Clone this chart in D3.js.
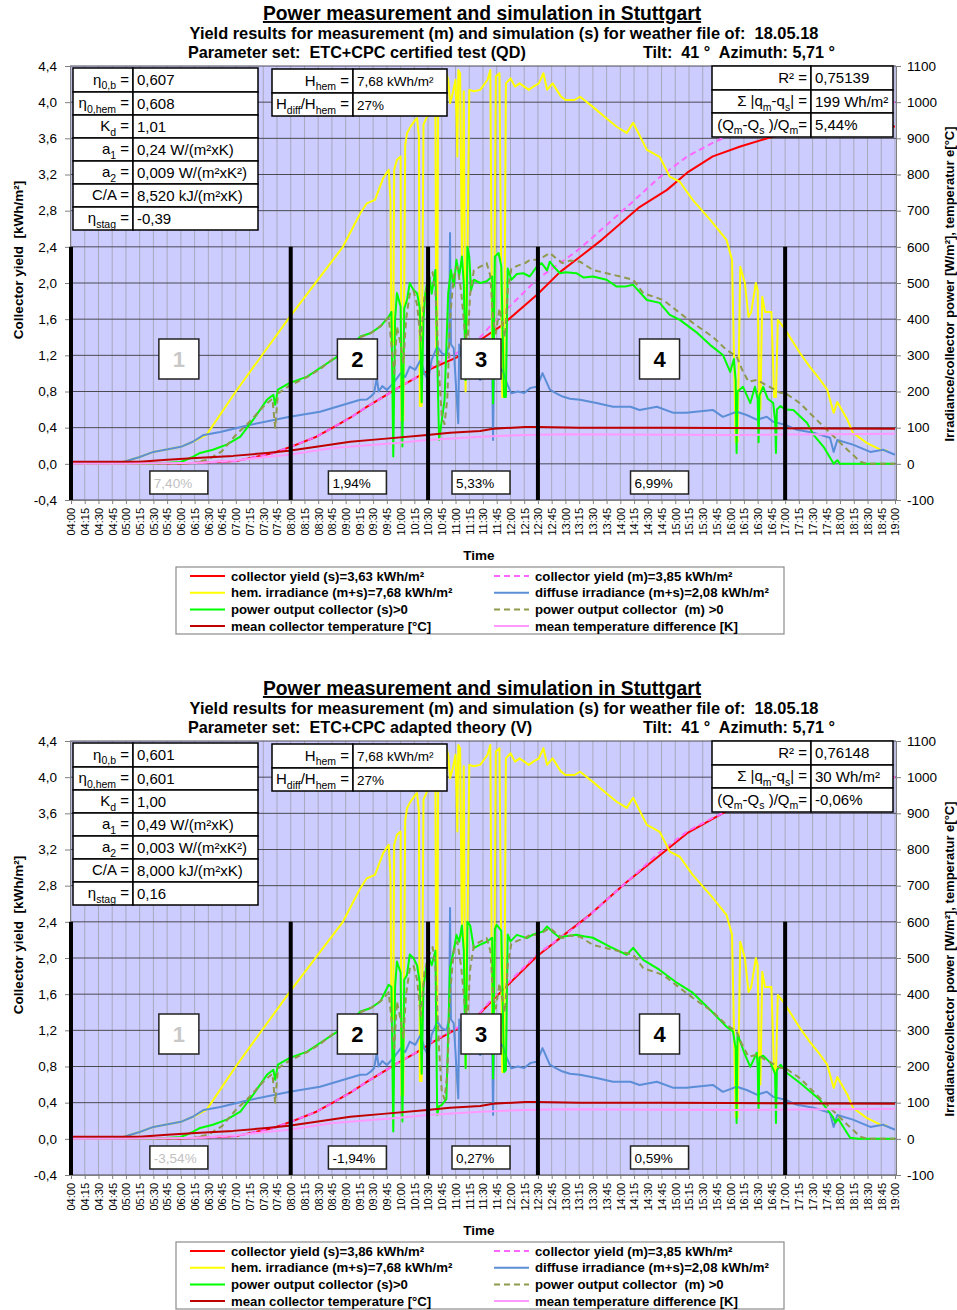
<!DOCTYPE html>
<html>
<head>
<meta charset="utf-8">
<script src="https://cdn.jsdelivr.net/npm/d3@7"></script>
<style>
  body { margin: 0; background: #fff; }
  svg { font-family: "Liberation Sans", Arial, sans-serif; }
  text { white-space: pre; }
</style>
</head>
<body>
<svg id="chart" width="957" height="1310"></svg>
<script>
// ---- tick labels ----
const timeLabels = ["04:00","04:15","04:30","04:45","05:00","05:15","05:30","05:45","06:00","06:15","06:30","06:45",
  "07:00","07:15","07:30","07:45","08:00","08:15","08:30","08:45","09:00","09:15","09:30","09:45","10:00","10:15",
  "10:30","10:45","11:00","11:15","11:30","11:45","12:00","12:15","12:30","12:45","13:00","13:15","13:30","13:45",
  "14:00","14:15","14:30","14:45","15:00","15:15","15:30","15:45","16:00","16:15","16:30","16:45","17:00","17:15",
  "17:30","17:45","18:00","18:15","18:30","18:45","19:00"];
const yieldTicks = [-0.4, 0, 0.4, 0.8, 1.2, 1.6, 2.0, 2.4, 2.8, 3.2, 3.6, 4.0, 4.4];
const yieldTickLabels = ["-0,4","0,0","0,4","0,8","1,2","1,6","2,0","2,4","2,8","3,2","3,6","4,0","4,4"];
const powerTicks = [-100, 0, 100, 200, 300, 400, 500, 600, 700, 800, 900, 1000, 1100];

const regionBounds = ["04:00","08:00","10:30","12:30","17:00"];
const regionNames = ["1","2","3","4"];
const regionTop = 2.4;

// ---- texts ----
const chartTitle = "Power measurement and simulation in Stuttgart";
const subTitle = "Yield results for measurement (m) and simulation (s) for weather file of:  18.05.18";
const tiltText = "Tilt:  41 °  Azimuth: 5,71 °";
const paramLabels = ["η_{0,b} =", "η_{0,hem} =", "K_{d} =", "a_{1} =", "a_{2} =", "C/A =", "η_{stag} ="];
const paramValuesQD = ["0,607","0,608","1,01","0,24 W/(m²xK)","0,009 W/(m²xK²)","8,520 kJ/(m²xK)","-0,39"];
const paramValuesV  = ["0,601","0,601","1,00","0,49 W/(m²xK)","0,003 W/(m²xK²)","8,000 kJ/(m²xK)","0,16"];
const irrLabels = ["H_{hem} =", "H_{diff}/H_{hem} ="];
const irrValues = ["7,68 kWh/m²", "27%"];
const statLabels = ["R² =", "Σ |q_{m}-q_{s}| =", "(Q_{m}-Q_{s} )/Q_{m}="];
const statsQD = ["0,75139", "199 Wh/m²", "5,44%"];
const statsV  = ["0,76148", "30 Wh/m²", "-0,06%"];
const percentsQD = ["7,40%", "1,94%", "5,33%", "6,99%"];
const percentsV  = ["-3,54%", "-1,94%", "0,27%", "0,59%"];
const legendQD = ["collector yield (s)=3,63 kWh/m²", "collector yield (m)=3,85 kWh/m²",
  "hem. irradiance (m+s)=7,68 kWh/m²", "diffuse irradiance (m+s)=2,08 kWh/m²",
  "power output collector (s)>0", "power output collector  (m) >0",
  "mean collector temperature [°C]", "mean temperature difference [K]"];
const legendV = ["collector yield (s)=3,86 kWh/m²", "collector yield (m)=3,85 kWh/m²",
  "hem. irradiance (m+s)=7,68 kWh/m²", "diffuse irradiance (m+s)=2,08 kWh/m²",
  "power output collector (s)>0", "power output collector  (m) >0",
  "mean collector temperature [°C]", "mean temperature difference [K]"];

// ---- series: [time, value]; yields in kWh/m², the rest in W/m² or °C/K ----
const yieldMeas = [["04:00",0],["06:00",0.005],["07:00",0.03],["07:19",0.07],["07:41",0.12],["07:58",0.18],
  ["08:28",0.30],["08:46",0.40],["09:05",0.51],["09:23",0.63],["09:41",0.74],["09:59",0.85],["10:18",0.96],
  ["10:35",1.08],["11:02",1.23],["11:27",1.40],["11:41",1.56],["11:59",1.74],["12:29",2.04],["12:54",2.22],
  ["13:12",2.35],["13:27",2.48],["14:07",2.84],["14:43",3.17],["15:13",3.40],["15:41",3.55],["15:56",3.62],
  ["16:30",3.79],["17:00",3.89],["17:30",3.95],["18:00",3.98],["19:00",4.00]];
const yieldSimQD = [["04:00",0],["06:00",0.005],["07:00",0.03],["07:19",0.07],["07:41",0.12],["07:58",0.18],
  ["08:28",0.30],["08:46",0.40],["09:05",0.51],["09:23",0.63],["09:41",0.74],["09:59",0.85],["10:18",0.96],
  ["10:35",1.06],["11:02",1.18],["11:27",1.37],["11:49",1.52],["12:29",1.87],["12:54",2.12],["13:16",2.29],
  ["13:40",2.48],["14:21",2.84],["14:51",3.03],["15:13",3.22],["15:41",3.40],["16:11",3.51],["16:47",3.62],
  ["17:30",3.69],["18:00",3.72],["19:00",3.73]];
const yieldSimV = [["04:00",0],["06:00",0.005],["07:00",0.03],["07:19",0.07],["07:41",0.12],["07:58",0.18],
  ["08:28",0.30],["08:46",0.40],["09:05",0.51],["09:23",0.63],["09:41",0.74],["09:59",0.85],["10:18",0.96],
  ["10:35",1.07],["11:02",1.22],["11:27",1.39],["11:49",1.62],["12:29",2.02],["12:54",2.22],["13:27",2.48],
  ["14:07",2.84],["14:51",3.20],["15:13",3.38],["15:55",3.62],["16:30",3.80],["17:00",3.90],["17:30",3.96],
  ["18:00",3.99],["19:00",4.00]];

const hemIrradiance = [["04:00",2],["04:57",5],["05:15",19],["05:30",33],["06:00",47],["06:13",61],["06:28",80],
  ["07:00",200],["07:30",305],["08:00",410],["08:30",510],["08:57",600],["09:16",693],["09:23",720],["09:32",730],
  ["09:41",790],["09:47",813],["09:49",727],["09:50",330],["09:52",330],["09:53",813],["09:56",841],["10:00",850],
  ["10:01",120],["10:03",120],["10:05",880],["10:07",914],["10:11",933],["10:16",951],["10:18",956],["10:20",905],
  ["10:21",160],["10:23",160],["10:25",938],["10:29",961],["10:34",979],["10:38",988],["10:39",306],["10:40",306],
  ["10:41",1006],["10:45",1062],["10:49",1089],["10:52",1062],["10:54",997],["10:57",1025],["11:00",1062],
  ["11:02",850],["11:03",1089],["11:05",1080],["11:07",560],["11:09",1030],["11:11",200],["11:13",560],
  ["11:15",1034],["11:20",1030],["11:27",1034],["11:35",1062],["11:38",1089],["11:40",300],["11:42",300],
  ["11:44",1071],["11:48",1080],["11:51",185],["11:53",185],["11:55",1052],["12:00",1066],["12:05",1043],
  ["12:10",1052],["12:20",1034],["12:25",1043],["12:31",1052],["12:36",1080],["12:40",1034],["12:46",1052],
  ["12:55",1016],["13:00",1006],["13:10",1006],["13:16",1015],["13:30",987],["13:45",955],["13:56",932],
  ["14:07",915],["14:14",943],["14:29",868],["14:43",849],["14:54",794],["15:05",780],["15:19",730],["15:38",675],
  ["15:56",619],["16:02",564],["16:06",60],["16:08",60],["16:11",545],["16:16",500],["16:20",406],["16:23",420],
  ["16:28",500],["16:30",480],["16:32",150],["16:33",150],["16:35",462],["16:38",420],["16:45",420],["16:48",185],
  ["16:50",185],["16:52",398],["16:58",379],["17:05",351],["17:16",307],["17:27",268],["17:36",240],["17:46",205],
  ["17:53",141],["17:57",171],["18:08",122],["18:14",86],["18:29",58],["18:44",39],["18:52",36]];

const diffIrradiance = [["04:00",2],["04:57",5],["05:15",19],["05:30",33],["06:00",47],["06:13",61],["06:25",80],
  ["06:43",88],["07:16",108],["07:59",130],["08:32",144],["09:05",169],["09:16",177],["09:23",178],["09:27",185],
  ["09:31",195],["09:34",238],["09:36",200],["09:40",215],["09:45",204],["09:52",223],["10:00",250],["10:05",240],
  ["10:10",269],["10:16",260],["10:22",288],["10:26",250],["10:30",232],["10:34",288],["10:40",324],["10:45",306],
  ["10:50",300],["10:53",330],["10:54",638],["10:55",330],["10:58",320],["11:03",112],["11:04",330],["11:08",280],
  ["11:12",241],["11:16",270],["11:20",250],["11:27",232],["11:35",250],["11:40",260],["11:41",66],["11:42",255],
  ["11:47",270],["11:52",255],["11:56",223],["12:01",195],["12:08",200],["12:15",196],["12:22",210],["12:29",213],
  ["12:35",251],["12:43",205],["12:50",195],["12:57",186],["13:05",180],["13:16",177],["13:34",168],["13:52",158],
  ["14:11",158],["14:21",149],["14:40",158],["14:58",141],["15:12",141],["15:25",145],["15:41",149],["15:52",130],
  ["16:07",144],["16:18",135],["16:29",122],["16:40",130],["16:47",116],["17:00",108],["17:13",94],["17:31",86],
  ["17:49",72],["17:53",33],["17:57",66],["18:14",53],["18:33",33],["18:47",39],["19:00",25]];

const powerMeas = [["04:00",0],["06:00",0],["06:15",3],["06:30",12],["06:45",35],["07:00",80],["07:12",108],
  ["07:30",158],["07:40",180],["07:43",100],["07:46",195],["08:00",218],["08:18",240],["08:32",262],["08:46",290],
  ["09:05",322],["09:16",350],["09:30",365],["09:40",385],["09:47",405],["09:50",330],["09:53",250],["09:56",380],
  ["10:00",330],["10:03",280],["10:06",400],["10:10",470],["10:14",480],["10:18",440],["10:22",340],["10:26",460],
  ["10:30",500],["10:35",530],["10:38",480],["10:42",250],["10:45",130],["10:48",110],["10:51",180],["10:54",400],
  ["10:58",520],["11:02",545],["11:06",480],["11:10",370],["11:13",330],["11:16",470],["11:20",535],["11:27",545],
  ["11:34",555],["11:38",520],["11:41",400],["11:44",360],["11:48",430],["11:51",390],["11:54",350],["11:57",480],
  ["12:01",540],["12:08",548],["12:16",555],["12:22",565],["12:29",564],["12:36",572],["12:43",583],["12:50",568],
  ["12:57",555],["13:05",562],["13:16",559],["13:30",536],["13:45",527],["14:00",518],["14:14",509],["14:25",472],
  ["14:47",453],["15:05",417],["15:19",390],["15:41",351],["15:56",315],["16:07",297],["16:14",255],["16:20",227],
  ["16:29",232],["16:43",213],["16:55",196],["17:00",196],["17:16",168],["17:31",130],["17:49",86],["18:08",39],
  ["18:22",6],["18:30",0],["19:00",0]];

const powerSimQD = [["04:00",0],["05:30",0],["06:00",5],["06:13",19],["06:21",30],["06:35",39],["06:50",53],
  ["07:05",75],["07:19",122],["07:34",177],["07:41",191],["07:43",163],["07:46",205],["07:59",224],["08:18",241],
  ["08:32",265],["08:46",288],["09:05",320],["09:16",352],["09:27",361],["09:38",380],["09:47",407],["09:50",420],
  ["09:52",20],["09:54",400],["09:56",472],["10:00",435],["10:02",48],["10:04",430],["10:07",453],["10:10",500],
  ["10:14",481],["10:18",472],["10:21",430],["10:23",170],["10:25",400],["10:27",472],["10:31",527],["10:34",470],
  ["10:38",536],["10:40",300],["10:42",66],["10:45",120],["10:48",176],["10:52",472],["10:55",536],["10:58",490],
  ["11:01",564],["11:04",520],["11:07",573],["11:09",500],["11:11",232],["11:13",600],["11:15",573],["11:17",480],
  ["11:20",509],["11:27",500],["11:34",505],["11:40",518],["11:41",167],["11:43",573],["11:47",583],["11:50",546],
  ["11:53",185],["11:55",185],["11:57",540],["12:01",509],["12:07",525],["12:14",527],["12:21",518],["12:29",546],
  ["12:34",555],["12:40",535],["12:43",559],["12:47",546],["12:54",527],["13:00",530],["13:12",527],["13:20",515],
  ["13:30",518],["13:45",509],["13:56",490],["14:05",490],["14:14",495],["14:29",453],["14:43",445],["14:54",412],
  ["15:05",398],["15:24",362],["15:38",329],["15:52",301],["16:00",254],["16:04",290],["16:06",230],["16:07",30],
  ["16:08",200],["16:14",213],["16:22",168],["16:27",213],["16:30",180],["16:31",60],["16:32",190],["16:36",213],
  ["16:41",180],["16:47",168],["16:49",120],["16:50",30],["16:51",150],["16:55",160],["17:00",150],["17:09",149],
  ["17:24",113],["17:31",80],["17:42",47],["17:53",0],["17:57",10],["18:00",0],["19:00",0]];

const powerSimV = [["04:00",0],["05:30",0],["06:00",5],["06:13",19],["06:21",30],["06:35",39],["06:50",53],
  ["07:05",75],["07:19",122],["07:34",177],["07:41",191],["07:43",163],["07:46",205],["07:59",224],["08:18",241],
  ["08:32",265],["08:46",288],["09:05",320],["09:16",352],["09:27",361],["09:38",380],["09:47",426],["09:50",420],
  ["09:52",20],["09:54",420],["09:56",490],["10:00",460],["10:02",48],["10:04",440],["10:07",453],["10:10",510],
  ["10:14",500],["10:18",480],["10:21",430],["10:23",180],["10:25",420],["10:30",509],["10:34",480],["10:38",520],
  ["10:40",66],["10:42",90],["10:45",94],["10:50",110],["10:54",472],["10:58",520],["11:01",564],["11:04",545],
  ["11:07",590],["11:09",520],["11:11",195],["11:13",600],["11:16",590],["11:20",527],["11:27",537],["11:34",545],
  ["11:40",556],["11:41",167],["11:43",580],["11:45",592],["11:50",575],["11:53",185],["11:55",190],["11:57",565],
  ["12:00",546],["12:07",564],["12:18",555],["12:25",565],["12:35",573],["12:40",587],["12:47",570],["12:54",556],
  ["13:00",560],["13:12",564],["13:20",560],["13:30",556],["13:49",531],["14:07",509],["14:14",528],["14:25",495],
  ["14:43",467],["15:02",431],["15:19",404],["15:38",357],["15:56",310],["16:03",297],["16:06",250],["16:07",44],
  ["16:08",290],["16:15",240],["16:22",199],["16:29",238],["16:30",200],["16:31",80],["16:32",225],["16:36",230],
  ["16:44",210],["16:49",180],["16:50",44],["16:51",190],["16:55",205],["17:02",182],["17:16",155],["17:38",108],
  ["17:52",61],["17:55",45],["17:58",55],["18:11",3],["18:20",0],["19:00",0]];

const collectorTemp = [["04:00",6],["05:15",6],["05:45",11],["06:21",17],["06:57",22],["07:34",30],["07:58",36],
  ["08:28",47],["09:05",61],["09:41",69],["10:29",80],["10:54",86],["11:27",91],["11:41",97],["12:16",102],
  ["12:29",102],["13:16",100],["14:47",100],["16:00",99],["19:00",97]];
const tempDiff = [["04:00",0],["05:00",0],["06:21",3],["07:00",10],["07:58",25],["08:46",44],["09:59",58],
  ["10:29",66],["11:27",75],["12:16",80],["13:00",82],["16:00",80],["19:00",83]];

const panels = [
  { offset: 0, paramSet: "ETC+CPC certified test (QD)", params: paramValuesQD, stats: statsQD,
    percents: percentsQD, yieldSim: yieldSimQD, powerSim: powerSimQD, legend: legendQD },
  { offset: 675, paramSet: "ETC+CPC adapted theory (V)", params: paramValuesV, stats: statsV,
    percents: percentsV, yieldSim: yieldSimV, powerSim: powerSimV, legend: legendV }
];

// ---- scales ----
const parseT = s => { const p = s.split(':'); return +p[0] * 60 + +p[1]; };
const plot = { left: 70, right: 896, top: 66, bottom: 500 };
const x = d3.scaleLinear().domain([parseT("04:00"), parseT("19:00")]).range([71, 895]);
const yL = d3.scaleLinear().domain([-0.4, 4.4]).range([plot.bottom, plot.top]);
const yR = d3.scaleLinear().domain([-100, 1100]).range([plot.bottom, plot.top]);

const svg = d3.select('#chart');

// text with _{...} subscripts
function richText(sel, str, size) {
  let shifted = false;
  str.split(/(_\{[^}]*\})/).filter(p => p).forEach(p => {
    const sub = p.startsWith('_{');
    const t = sel.append('tspan').text(sub ? p.slice(2, -1) : p);
    if (sub) {
      t.attr('font-size', size * 0.7);
      if (!shifted) { t.attr('dy', size * 0.28); shifted = true; }
    } else if (shifted) {
      t.attr('dy', -size * 0.28); shifted = false;
    }
  });
}

function drawTable(g, box, labels, values, fs, valueFs) {
  const t = g.append('g');
  labels.forEach((lab, i) => {
    const y0 = box.rows[i], y1 = box.rows[i + 1];
    t.append('rect').attr('x', box.x0).attr('y', y0).attr('width', box.xs - box.x0).attr('height', y1 - y0)
      .attr('fill', '#fff').attr('stroke', '#000').attr('stroke-width', 1.5);
    t.append('rect').attr('x', box.xs).attr('y', y0).attr('width', box.x1 - box.xs).attr('height', y1 - y0)
      .attr('fill', '#fff').attr('stroke', '#000').attr('stroke-width', 1.5);
    const lt = t.append('text').attr('x', box.xs - 4).attr('y', (y0 + y1) / 2 + fs * 0.33)
      .attr('text-anchor', 'end').attr('font-size', fs);
    richText(lt, lab, fs);
    t.append('text').attr('x', box.xs + 4).attr('y', (y0 + y1) / 2 + fs * 0.36)
      .attr('font-size', valueFs || fs).text(values[i]);
  });
}

function drawPanel(p, idx) {
  const g = svg.append('g').attr('transform', `translate(0,${p.offset})`);

  // titles
  g.append('text').attr('x', 482).attr('y', 20).attr('text-anchor', 'middle')
    .attr('font-size', 19.3).attr('font-weight', 'bold').attr('text-decoration', 'underline').text(chartTitle);
  g.append('text').attr('x', 504).attr('y', 39).attr('text-anchor', 'middle')
    .attr('font-size', 16.4).attr('font-weight', 'bold').text(subTitle);
  g.append('text').attr('x', 188).attr('y', 58)
    .attr('font-size', 16.2).attr('font-weight', 'bold').text("Parameter set:  " + p.paramSet);
  g.append('text').attr('x', 643).attr('y', 58)
    .attr('font-size', 16.2).attr('font-weight', 'bold').text(tiltText);

  // plot background
  g.append('rect').attr('x', plot.left).attr('y', plot.top)
    .attr('width', plot.right - plot.left).attr('height', plot.bottom - plot.top).attr('fill', '#ccccff');

  // grid
  g.append('g').selectAll('line').data(timeLabels).join('line')
    .attr('x1', d => x(parseT(d))).attr('x2', d => x(parseT(d)))
    .attr('y1', plot.top).attr('y2', plot.bottom)
    .attr('stroke', '#a9a9bd').attr('stroke-width', 1);
  g.append('g').selectAll('line').data(yieldTicks).join('line')
    .attr('x1', plot.left).attr('x2', plot.right)
    .attr('y1', d => yL(d)).attr('y2', d => yL(d))
    .attr('stroke', '#4a4a55').attr('stroke-width', 1);

  // axes
  const axL = g.append('g').attr('transform', `translate(${plot.left},0)`)
    .call(d3.axisLeft(yL).tickValues(yieldTicks).tickFormat((d, i) => yieldTickLabels[i]).tickSize(5).tickSizeOuter(0));
  const axR = g.append('g').attr('transform', `translate(${plot.right},0)`)
    .call(d3.axisRight(yR).tickValues(powerTicks).tickFormat(d => String(d)).tickSize(5).tickSizeOuter(0));
  const axB = g.append('g').attr('transform', `translate(0,${plot.bottom})`)
    .call(d3.axisBottom(x).tickValues(timeLabels.map(parseT)).tickFormat((d, i) => timeLabels[i]).tickSize(4).tickSizeOuter(0));
  [axL, axR, axB].forEach(a => {
    a.attr('font-family', null).attr('font-size', null);
    a.selectAll('path, line').attr('stroke', '#808080');
    a.selectAll('text').attr('fill', '#000');
  });
  axL.selectAll('text').attr('font-size', 13.5).attr('x', -13);
  axR.selectAll('text').attr('font-size', 13.5).attr('x', 11);
  axB.selectAll('text').attr('font-size', 11)
    .attr('transform', 'rotate(-90)').attr('text-anchor', 'end')
    .attr('x', -8).attr('y', 0).attr('dy', '0.35em');

  // axis titles
  g.append('text').attr('transform', 'translate(23,260) rotate(-90)').attr('text-anchor', 'middle')
    .attr('font-size', 13.5).attr('font-weight', 'bold').text("Collector yield  [kWh/m²]");
  g.append('text').attr('transform', 'translate(954,284) rotate(-90)').attr('text-anchor', 'middle')
    .attr('font-size', 13).attr('font-weight', 'bold').text("Irradiance/collector power [W/m²], temperatur e[°C]");
  g.append('text').attr('x', 479).attr('y', 560).attr('text-anchor', 'middle')
    .attr('font-size', 13.5).attr('font-weight', 'bold').text("Time");

  // series
  const clipId = 'clip' + idx;
  g.append('clipPath').attr('id', clipId).append('rect')
    .attr('x', plot.left).attr('y', plot.top).attr('width', plot.right - plot.left).attr('height', plot.bottom - plot.top);
  const lines = g.append('g').attr('clip-path', `url(#${clipId})`);
  const lineL = d3.line().x(d => x(parseT(d[0]))).y(d => yL(d[1]));
  const lineR = d3.line().x(d => x(parseT(d[0]))).y(d => yR(d[1]));
  const series = [
    { data: p.yieldSim, gen: lineL, color: '#ff0000', dash: null },
    { data: yieldMeas, gen: lineL, color: '#ff66ff', dash: '6,4' },
    { data: hemIrradiance, gen: lineR, color: '#ffff00', dash: null },
    { data: diffIrradiance, gen: lineR, color: '#5b8ed6', dash: null },
    { data: p.powerSim, gen: lineR, color: '#00ff00', dash: null },
    { data: powerMeas, gen: lineR, color: '#8f9a4c', dash: '6,4' },
    { data: collectorTemp, gen: lineR, color: '#c00000', dash: null },
    { data: tempDiff, gen: lineR, color: '#ff99ff', dash: null }
  ];
  series.forEach(s => {
    lines.append('path').attr('d', s.gen(s.data)).attr('fill', 'none')
      .attr('stroke', s.color).attr('stroke-width', 2).attr('stroke-linejoin', 'round')
      .attr('stroke-dasharray', s.dash);
  });

  // region dividers
  g.append('g').selectAll('line').data(regionBounds).join('line')
    .attr('x1', d => x(parseT(d))).attr('x2', d => x(parseT(d)))
    .attr('y1', yL(regionTop)).attr('y2', yL(-0.4))
    .attr('stroke', '#000').attr('stroke-width', 4);

  // region labels and per-region deviation
  regionNames.forEach((name, i) => {
    const cx = (x(parseT(regionBounds[i])) + x(parseT(regionBounds[i + 1]))) / 2 - 2;
    const grey = i === 0;
    g.append('rect').attr('x', cx - 20).attr('y', 339).attr('width', 40).attr('height', 40)
      .attr('fill', '#fff').attr('stroke', '#222').attr('stroke-width', 1.5);
    g.append('text').attr('x', cx).attr('y', 367).attr('text-anchor', 'middle')
      .attr('font-size', 22).attr('font-weight', 'bold').attr('fill', grey ? '#c8c8c8' : '#000').text(name);
    g.append('rect').attr('x', cx - 29).attr('y', 471).attr('width', 58).attr('height', 23)
      .attr('fill', '#fff').attr('stroke', '#222').attr('stroke-width', 1.5);
    g.append('text').attr('x', cx - 25).attr('y', 488)
      .attr('font-size', 13.5).attr('fill', grey ? '#c0c0c0' : '#000').text(p.percents[i]);
  });

  // tables
  drawTable(g, { x0: 73, x1: 258, xs: 133, rows: [68, 92, 115, 138, 161, 184, 207, 230] }, paramLabels, p.params, 15);
  drawTable(g, { x0: 272, x1: 447, xs: 353, rows: [69, 93, 116] }, irrLabels, irrValues, 15, 13.5);
  drawTable(g, { x0: 712, x1: 893, xs: 811, rows: [66, 90, 113, 137] }, statLabels, p.stats, 15);

  // legend
  const lg = g.append('g');
  lg.append('rect').attr('x', 176).attr('y', 567).attr('width', 608).attr('height', 67)
    .attr('fill', '#fff').attr('stroke', '#8c8c8c').attr('stroke-width', 1.2);
  series.forEach((s, i) => {
    const col = i % 2, row = Math.floor(i / 2);
    const ly = 576 + row * 16.7;
    const lx = col === 0 ? 190 : 494;
    lg.append('line').attr('x1', lx).attr('x2', lx + 35).attr('y1', ly).attr('y2', ly)
      .attr('stroke', s.color).attr('stroke-width', 2).attr('stroke-dasharray', s.dash);
    lg.append('text').attr('x', lx + 41).attr('y', ly + 4.5)
      .attr('font-size', 13.2).attr('font-weight', 'bold').text(p.legend[i]);
  });
}

panels.forEach(drawPanel);
</script>
</body>
</html>
